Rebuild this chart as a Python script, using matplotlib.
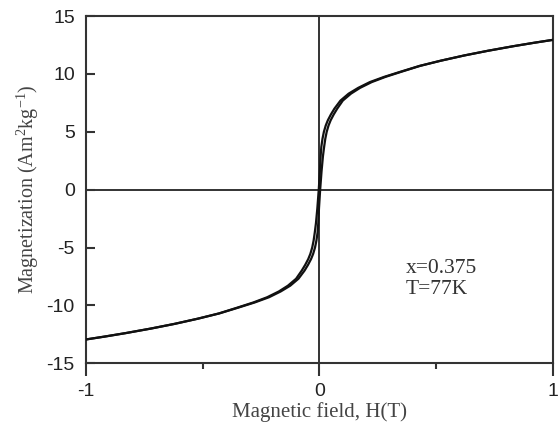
import matplotlib.pyplot as plt
from matplotlib.ticker import MultipleLocator

# magnetization values (Am2/kg), shared by both branches
magnetization = [-12.95, -12.7, -12.4, -12.0, -11.6, -11.15, -10.7, -10.2, -9.75, -9.3,
                 -8.8, -8.3, -7.7, -7.0, -6.5, -6.0, -5.55, -5.0, -4.4, -3.7,
                 -2.9, -1.6, 0.0, 1.6, 2.9, 3.7, 4.4, 5.0, 5.55, 6.0,
                 6.5, 7.0, 7.7, 8.3, 8.8, 9.3, 9.75, 10.2, 10.7, 11.15,
                 11.6, 12.0, 12.4, 12.7, 12.95]

# field (T) on the descending branch
h_desc = [-1.0, -0.92, -0.83, -0.72, -0.62, -0.52, -0.431, -0.352, -0.283, -0.224,
          -0.174, -0.135, -0.1, -0.076, -0.061, -0.048, -0.039, -0.031, -0.025, -0.02,
          -0.015, -0.009, -0.003, 0.002, 0.005, 0.008, 0.013, 0.019, 0.027, 0.036,
          0.049, 0.064, 0.09, 0.125, 0.166, 0.216, 0.277, 0.348, 0.429, 0.52,
          0.62, 0.72, 0.83, 0.92, 1.0]

# field (T) on the ascending branch
h_asc = [-1.0, -0.92, -0.83, -0.72, -0.62, -0.52, -0.429, -0.348, -0.277, -0.216,
         -0.166, -0.125, -0.09, -0.064, -0.049, -0.036, -0.027, -0.019, -0.013, -0.008,
         -0.005, -0.002, 0.003, 0.009, 0.015, 0.02, 0.025, 0.031, 0.039, 0.048,
         0.061, 0.076, 0.1, 0.135, 0.174, 0.224, 0.283, 0.352, 0.431, 0.52,
         0.62, 0.72, 0.83, 0.92, 1.0]

xticks = [-1, 0, 1]
yticks = [-15, -10, -5, 0, 5, 10, 15]

plt.rcParams['axes.unicode_minus'] = False
plt.rcParams['mathtext.fontset'] = 'custom'
plt.rcParams['mathtext.rm'] = 'Liberation Serif'
plt.rcParams['mathtext.it'] = 'Liberation Serif:italic'

fig = plt.figure(figsize=(5.58, 4.36), dpi=100)
ax = fig.add_axes([0.154, 0.167, 0.837, 0.796])

ax.axhline(0, color='#333333', lw=1.4, zorder=1)
ax.axvline(0, color='#333333', lw=1.4, zorder=1)
ax.plot(h_desc, magnetization, color='#111111', lw=1.6, zorder=3)
ax.plot(h_asc, magnetization, color='#111111', lw=1.6, zorder=3)

ax.set_xlim(-1, 1)
ax.set_ylim(-15, 15)
ax.set_xticks(xticks)
ax.set_yticks(yticks)
ax.xaxis.set_minor_locator(MultipleLocator(0.5))

for s in ax.spines.values():
    s.set_linewidth(1.5)
    s.set_color('#333333')

ax.tick_params(axis='x', which='major', direction='out', length=9, width=1.5,
               color='#333333', pad=5, labelsize=14)
ax.tick_params(axis='x', which='minor', direction='out', length=4.5, width=1.5,
               color='#333333')
ax.tick_params(axis='y', which='major', direction='in', length=6.5, width=1.5,
               color='#333333', pad=8, labelsize=14)
for lab in ax.get_xticklabels() + ax.get_yticklabels():
    lab.set_family('Liberation Sans')
    lab.set_color('#222222')

ax.set_xlabel('Magnetic field, H(T)', family='Liberation Serif', fontsize=15,
              color='#444444', labelpad=2)
ax.set_ylabel('Magnetization (Am$^{2}$kg$^{-1}$)', family='Liberation Serif',
              fontsize=14.5, color='#444444', labelpad=4)

ax.text(0.37, -6.0, 'x=0.375\nT=77K', family='Liberation Serif', fontsize=15.5,
        color='#333333', va='top', ha='left', linespacing=1.15)

fig.savefig('out.png', dpi=100)
